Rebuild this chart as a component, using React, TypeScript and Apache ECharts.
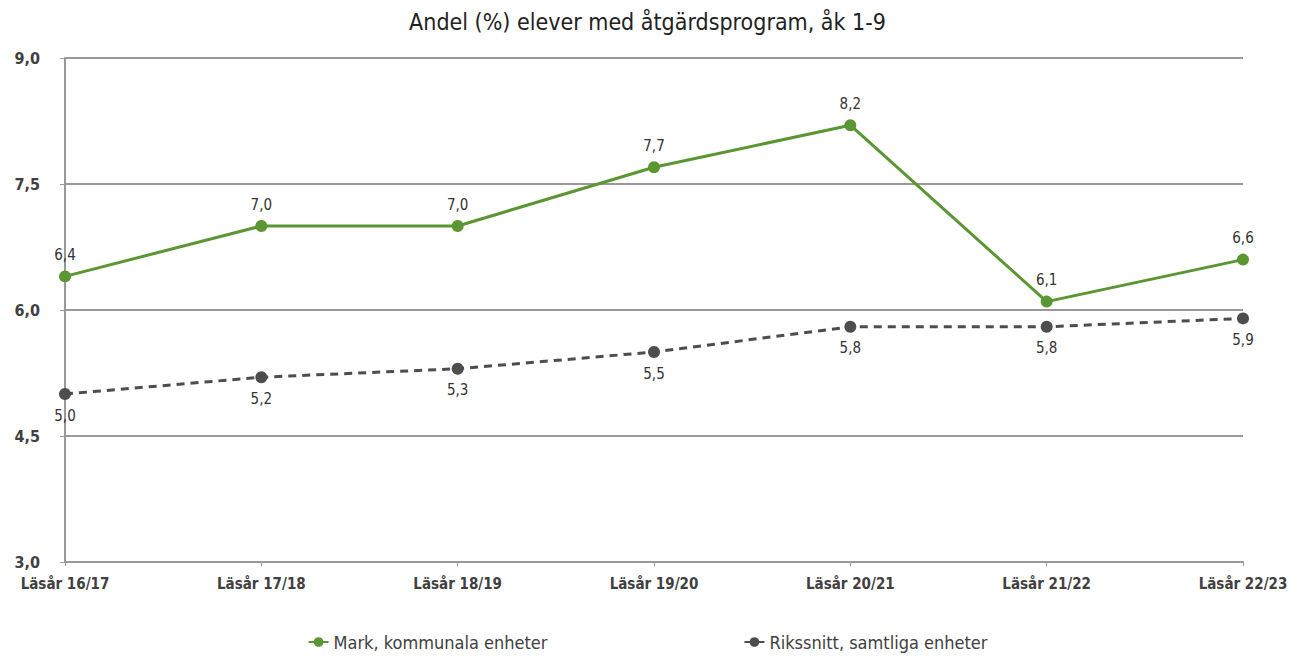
import React, { useEffect, useRef } from "react";
import * as echarts from "echarts";

const categories = ["Läsår 16/17", "Läsår 17/18", "Läsår 18/19", "Läsår 19/20", "Läsår 20/21", "Läsår 21/22", "Läsår 22/23"];
const markValues = [6.4, 7.0, 7.0, 7.7, 8.2, 6.1, 6.6];
const riksValues = [5.0, 5.2, 5.3, 5.5, 5.8, 5.8, 5.9];
const titleText = "Andel (%) elever med åtgärdsprogram, åk 1-9";
const seriesNames = ["Mark, kommunala enheter", "Rikssnitt, samtliga enheter"];

const fmt = (v: number) => v.toFixed(1).replace(".", ",");
const FONT = "DejaVu Sans Condensed, DejaVu Sans, sans-serif";

export default function App() {
  const ref = useRef<HTMLDivElement>(null);
  useEffect(() => {
    document.body.style.margin = "0";
    if (!ref.current) return;
    const chart = echarts.init(ref.current, undefined, { renderer: "svg" });
    chart.setOption({
      animation: false,
      textStyle: { fontFamily: FONT },
      title: {
        text: titleText,
        left: "center",
        top: 5,
        textStyle: { fontFamily: FONT, fontSize: 23, fontWeight: "normal", color: "#222" },
      },
      grid: { left: 65, right: 52, top: 58, bottom: 94 },
      legend: {
        bottom: 0,
        left: "center",
        itemGap: 196,
        itemWidth: 20,
        itemHeight: 12,
        textStyle: { fontFamily: FONT, fontSize: 18, color: "#404040" },
        data: seriesNames,
      },
      xAxis: {
        type: "category",
        data: categories,
        boundaryGap: false,
        axisLine: { lineStyle: { color: "#999", width: 2 } },
        axisTick: { show: true, alignWithLabel: true, length: 4, lineStyle: { color: "#999" } },
        axisLabel: { color: "#404040", fontSize: 15, fontWeight: "bold", margin: 14, fontFamily: FONT },
      },
      yAxis: {
        type: "value",
        min: 3,
        max: 9,
        interval: 1.5,
        axisLine: { show: true, lineStyle: { color: "#999", width: 2 } },
        axisTick: { show: true, length: 5, lineStyle: { color: "#999" } },
        splitLine: { lineStyle: { color: "#999", width: 2 } },
        axisLabel: { color: "#404040", fontSize: 16, fontWeight: "bold", margin: 25, formatter: (v: number) => fmt(v), fontFamily: FONT },
      },
      series: [
        {
          name: seriesNames[0],
          type: "line",
          data: markValues,
          symbol: "circle",
          symbolSize: 12,
          itemStyle: { color: "#5a9632" },
          lineStyle: { color: "#5a9632", width: 3 },
          label: { show: true, position: "top", distance: 8, color: "#333", fontSize: 15, formatter: (p: any) => fmt(p.value), fontFamily: FONT },
          z: 3,
        },
        {
          name: seriesNames[1],
          type: "line",
          data: riksValues,
          symbol: "circle",
          symbolSize: 12,
          itemStyle: { color: "#4d4d4d" },
          lineStyle: { color: "#4d4d4d", width: 3, type: [8, 6] },
          label: { show: true, position: "bottom", distance: 8, color: "#333", fontSize: 15, formatter: (p: any) => fmt(p.value), fontFamily: FONT },
          z: 2,
        },
      ],
    });
    return () => chart.dispose();
  }, []);
  return <div ref={ref} style={{ width: 1295, height: 656 }} />;
}
